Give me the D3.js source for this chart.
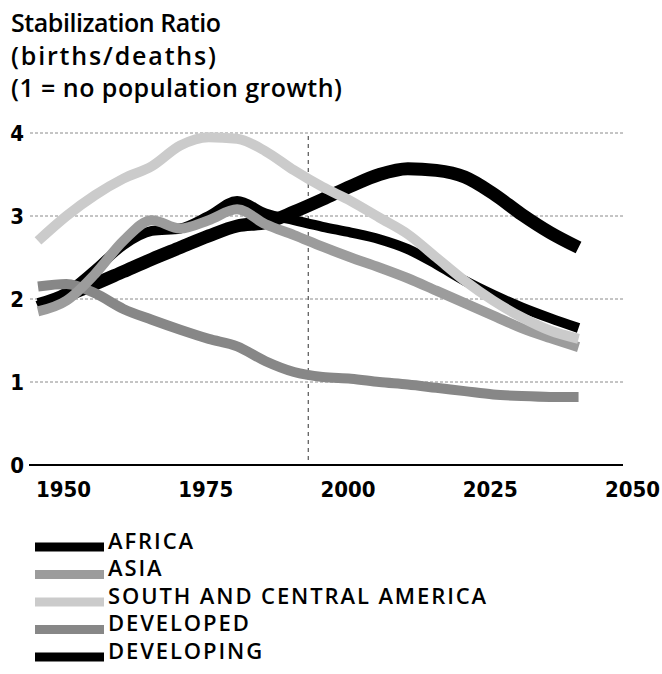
<!DOCTYPE html>
<html>
<head>
<meta charset="utf-8">
<script src="https://cdn.jsdelivr.net/npm/d3@7"></script>
<style>
  html, body { margin: 0; padding: 0; background: #fff; }
  svg { display: block; }
  .title { font-family: "Open Sans", "Noto Sans", sans-serif; font-weight: 600; font-size: 25px; fill: #000; }
  .tick-label { font-family: "DejaVu Sans Condensed", "DejaVu Sans", sans-serif; font-stretch: condensed; font-weight: bold; font-size: 22px; fill: #000; }
  .legend-label { font-family: "Open Sans", "Noto Sans", sans-serif; font-weight: 600; font-size: 22px; letter-spacing: 1.9px; fill: #000; }
</style>
</head>
<body>
<svg id="chart" width="662" height="674"></svg>
<script>
// Stabilization ratio (births / deaths) by region, 1950-2045
const years = [1950, 1955, 1960, 1965, 1970, 1975, 1980, 1985, 1990, 1995,
               2000, 2005, 2010, 2015, 2020, 2025, 2030, 2035, 2040, 2045];

const africa     = [1.90, 2.04, 2.18, 2.33, 2.48, 2.62, 2.76, 2.88, 2.92, 3.05,
                    3.20, 3.36, 3.50, 3.57, 3.55, 3.47, 3.27, 3.02, 2.80, 2.62];
const asia       = [1.85, 1.98, 2.30, 2.70, 2.95, 2.85, 2.95, 3.08, 2.90, 2.77,
                    2.63, 2.50, 2.38, 2.25, 2.10, 1.95, 1.80, 1.65, 1.53, 1.42];
const southCentralAmerica = [2.70, 3.00, 3.25, 3.45, 3.60, 3.85, 3.95, 3.93, 3.78, 3.55,
                    3.35, 3.18, 2.98, 2.78, 2.50, 2.22, 1.98, 1.78, 1.62, 1.52];
const developed  = [2.15, 2.18, 2.07, 1.88, 1.75, 1.63, 1.52, 1.43, 1.25, 1.12,
                    1.06, 1.04, 1.00, 0.97, 0.93, 0.89, 0.85, 0.83, 0.82, 0.82];
const developing = [1.95, 2.08, 2.35, 2.65, 2.82, 2.85, 3.00, 3.18, 3.03, 2.95,
                    2.87, 2.80, 2.72, 2.60, 2.42, 2.22, 2.05, 1.90, 1.77, 1.65];

const seriesNames = ["AFRICA", "ASIA", "SOUTH AND CENTRAL AMERICA", "DEVELOPED", "DEVELOPING"];
const seriesColors = ["#000000", "#9c9c9c", "#cbcbcb", "#878787", "#000000"];
const seriesWidths = [13, 10, 10, 10, 10];

const yTicks = [0, 1, 2, 3, 4];
const xTicks = [1950, 1975, 2000, 2025, 2050];
const markerYear = 1997.5;

const titleLines = ["Stabilization Ratio", "(births/deaths)", "(1 = no population growth)"];
const titleWidths = [210, 205, 331];

const seriesValues = [africa, asia, southCentralAmerica, developed, developing];
const series = seriesNames.map((name, i) => ({
  name,
  color: seriesColors[i],
  width: seriesWidths[i],
  values: years.map((yr, j) => ({ year: yr, value: seriesValues[i][j] }))
}));

const svg = d3.select("#chart");

const x = d3.scaleLinear().domain([1950, 2050]).range([38, 607]);
const y = d3.scaleLinear().domain([0, 4]).range([465, 133]);
const plotLeft = 29, plotRight = 623;

// Title
svg.append("g").selectAll("text")
  .data(titleLines)
  .join("text")
  .attr("class", "title")
  .attr("x", 11)
  .attr("y", (d, i) => 32 + i * 32.5)
  .attr("textLength", (d, i) => titleWidths[i])
  .attr("lengthAdjust", "spacing")
  .text(d => d);

// Gridlines
svg.append("g").selectAll("line")
  .data(yTicks.filter(t => t > 0))
  .join("line")
  .attr("x1", plotLeft + 1)
  .attr("x2", plotRight)
  .attr("y1", d => y(d))
  .attr("y2", d => y(d))
  .attr("stroke", "#8a8a8a")
  .attr("stroke-width", 1)
  .attr("stroke-dasharray", "3,2");

// Marker for the present year
svg.append("line")
  .attr("x1", x(markerYear)).attr("x2", x(markerYear))
  .attr("y1", y(4) + 3).attr("y2", y(0))
  .attr("stroke", "#555")
  .attr("stroke-width", 1.2)
  .attr("stroke-dasharray", "4,4");

// Y tick labels
svg.append("g").selectAll("text")
  .data(yTicks)
  .join("text")
  .attr("class", "tick-label")
  .attr("x", 24)
  .attr("y", d => y(d))
  .attr("dy", "0.36em")
  .attr("text-anchor", "end")
  .text(d => d);

// Series lines
const line = d3.line()
  .x(d => x(d.year))
  .y(d => y(d.value))
  .curve(d3.curveMonotoneX);

const drawOrder = [0, 4, 3, 1, 2];
svg.append("g").selectAll("path")
  .data(drawOrder.map(i => series[i]))
  .join("path")
  .attr("d", d => line(d.values))
  .attr("fill", "none")
  .attr("stroke", d => d.color)
  .attr("stroke-width", d => d.width)
  .attr("stroke-linejoin", "round")
  .attr("stroke-linecap", "butt");

// X axis
svg.append("line")
  .attr("x1", plotLeft).attr("x2", plotRight)
  .attr("y1", y(0)).attr("y2", y(0))
  .attr("stroke", "#000")
  .attr("stroke-width", 2);

svg.append("g").selectAll("text")
  .data(xTicks)
  .join("text")
  .attr("class", "tick-label")
  .attr("x", d => x(d) - 2)
  .attr("y", 497)
  .attr("text-anchor", "start")
  .text(d => d);

// Legend
const legend = svg.append("g").selectAll("g")
  .data(series)
  .join("g")
  .attr("transform", (d, i) => `translate(0, ${541 + i * 27.5})`);

legend.append("line")
  .attr("x1", 35).attr("x2", 104)
  .attr("y1", 6).attr("y2", 6)
  .attr("stroke", d => d.color)
  .attr("stroke-width", 9);

legend.append("text")
  .attr("class", "legend-label")
  .attr("x", 108)
  .attr("y", 0)
  .attr("dy", "0.36em")
  .text(d => d.name);
</script>
</body>
</html>
